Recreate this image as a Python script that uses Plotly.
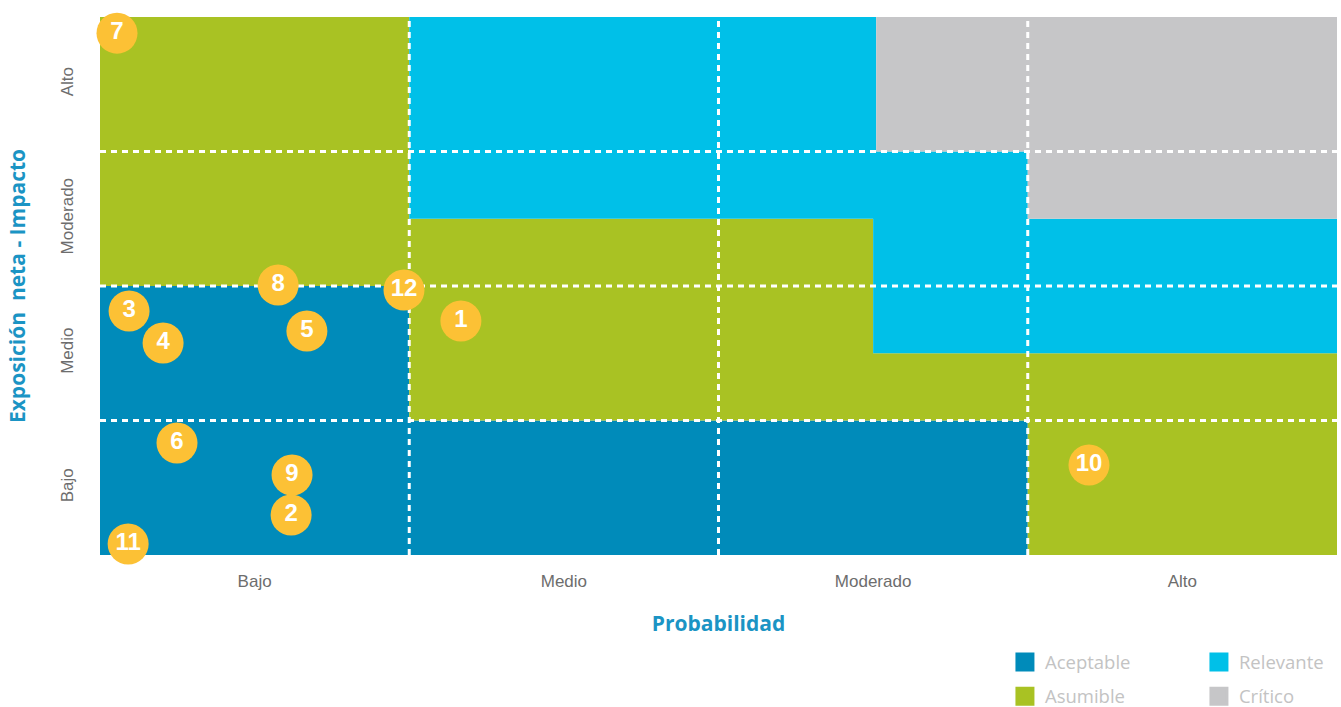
import plotly.graph_objects as go

# ---- data ----
prob_labels = ["Bajo", "Medio", "Moderado", "Alto"]
impact_labels = ["Bajo", "Medio", "Moderado", "Alto"]
tick_pos = [0.5, 1.5, 2.5, 3.5]
grid_bounds = [1, 2, 3]

risk_ids = ["7", "3", "4", "8", "5", "12", "1", "6", "9", "2", "11", "10"]
risk_x = [0.055, 0.094, 0.204, 0.576, 0.669, 0.983, 1.167, 0.249, 0.621, 0.618, 0.091, 3.198]
risk_y = [3.88, 1.814, 1.576, 2.007, 1.665, 1.970, 1.740, 0.833, 0.595, 0.297, 0.082, 0.669]

zone_names = ["Aceptable", "Asumible", "Relevante", "Crítico"]
zone_colors = ["#008bba", "#a9c223", "#00c0e8", "#c6c6c8"]
aceptable_x = [0, 3, 3, 1, 1, 0]
aceptable_y = [0, 0, 1, 1, 2, 2]
asumible_x = [0, 1, 1, 3, 3, 4, 4, 2.5, 2.5, 1, 1, 0]
asumible_y = [2, 2, 1, 1, 0, 0, 1.5, 1.5, 2.5, 2.5, 4, 4]
relevante_x = [1, 2.5, 2.5, 4, 4, 3, 3, 2.51, 2.51, 1]
relevante_y = [2.5, 2.5, 1.5, 1.5, 2.5, 2.5, 3, 3, 4, 4]
critico_x = [2.51, 3, 3, 4, 4, 2.51]
critico_y = [3, 3, 2.5, 2.5, 4, 4]
zone_xs = [aceptable_x, asumible_x, relevante_x, critico_x]
zone_ys = [aceptable_y, asumible_y, relevante_y, critico_y]

# ---- figure ----
fig = go.Figure()

for name, col, xs, ys in zip(zone_names, zone_colors, zone_xs, zone_ys):
    fig.add_trace(go.Scatter(
        x=xs + [xs[0]], y=ys + [ys[0]], fill="toself", fillcolor=col,
        mode="lines", line=dict(width=0, color=col), showlegend=False,
        hoverinfo="skip"))

# dashed grid lines
gx, gy = [], []
for b in grid_bounds:
    gx += [b, b, None]
    gy += [0, 4, None]
    gx += [0, 4, None]
    gy += [b, b, None]
fig.add_trace(go.Scatter(x=gx, y=gy, mode="lines",
                         line=dict(color="white", width=3, dash="6px,5px"),
                         showlegend=False, hoverinfo="skip"))

# risk circles
fig.add_trace(go.Scatter(
    x=risk_x, y=risk_y, mode="markers+text", text=risk_ids,
    textposition="middle center", cliponaxis=False,
    marker=dict(size=41, color="#fcc135", line=dict(width=0)),
    textfont=dict(family="Liberation Sans Narrow, Arial Narrow, sans-serif",
                  size=24, color="white", weight="bold"),
    showlegend=False, hoverinfo="skip"))

# legend entries
legend_of = ["legend", "legend2", "legend", "legend2"]
for name, col, lg in zip(zone_names, zone_colors, legend_of):
    fig.add_trace(go.Scatter(
        x=[None], y=[None], mode="markers", name=name,
        marker=dict(symbol="square", size=16, color=col, line=dict(width=3, color=col)),
        legend=lg))

tick_font = dict(family="Liberation Sans Narrow, Arial Narrow, sans-serif", size=17, color="#6d6d6d")
title_font = dict(family="Open Sans, sans-serif", size=21, color="#1b94c4", weight="bold")
leg_font = dict(family="Open Sans, sans-serif", size=18.5, color="#c3c3c3")

leg_common = dict(orientation="h", xref="container", yref="container",
                  xanchor="left", yanchor="middle",
                  entrywidth=149, entrywidthmode="pixels", font=leg_font,
                  bgcolor="rgba(0,0,0,0)", itemclick=False, itemdoubleclick=False)

fig.update_layout(
    width=1341, height=707,
    margin=dict(l=100, r=4, t=17, b=152),
    paper_bgcolor="white", plot_bgcolor="white",
    xaxis=dict(range=[0, 4], tickvals=tick_pos, ticktext=prob_labels,
               showgrid=False, zeroline=False, showline=False,
               tickfont=tick_font, ticks="", ticklabelstandoff=14,
               title=dict(text="Probabilidad", font=title_font, standoff=26)),
    yaxis=dict(range=[0, 4], tickvals=tick_pos, ticktext=impact_labels,
               showgrid=False, zeroline=False, showline=False,
               tickfont=tick_font, ticks="", tickangle=-90, ticklabelstandoff=23,
               title=dict(text="Exposición  neta - Impacto", font=title_font, standoff=26)),
    legend=dict(x=0.7494, y=0.0629, **leg_common),
    legend2=dict(x=0.7494, y=0.0147, **leg_common),
)

fig.write_html(
    "out.html",
    config={"displayModeBar": False},
    post_script="document.body.style.margin='0';document.body.style.overflow='hidden';",
)
